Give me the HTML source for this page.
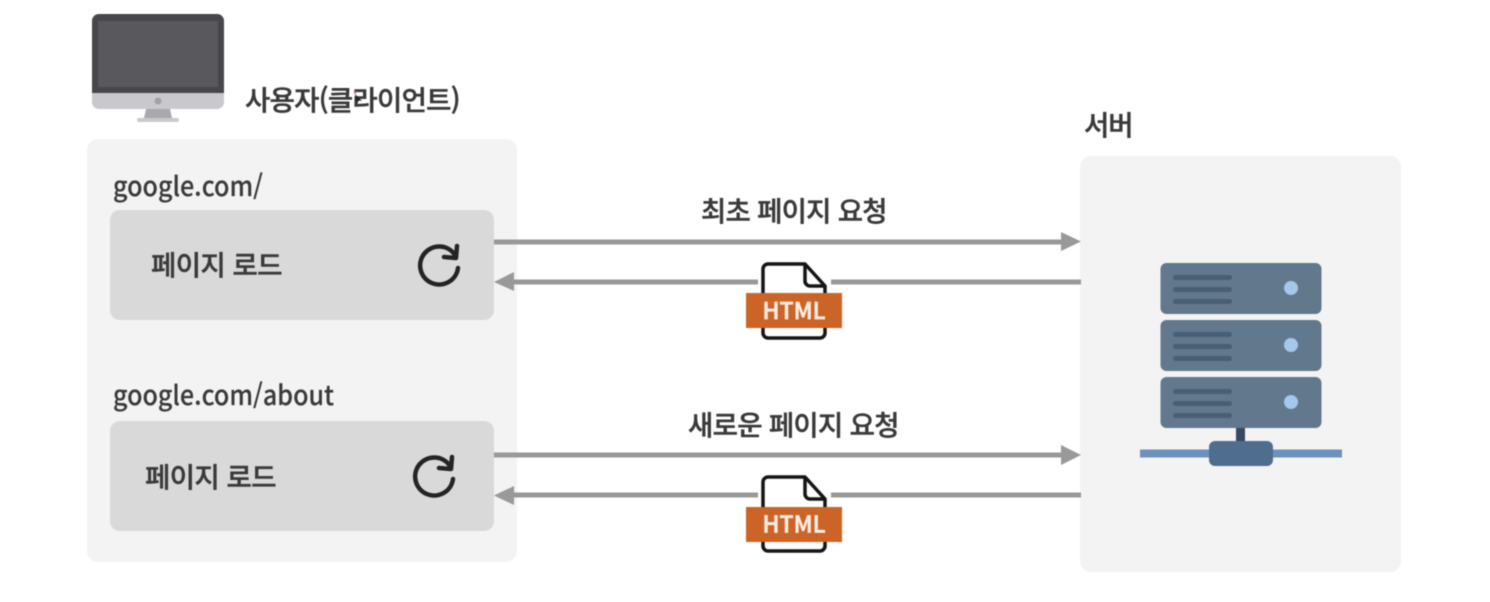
<!DOCTYPE html>
<html lang="ko">
<head>
<meta charset="utf-8">
<title>페이지 로드</title>
<style>
html,body{margin:0;padding:0;background:#fff;width:1490px;height:602px;overflow:hidden}
svg{display:block;filter:blur(.5px)}
text{font-family:"Noto Sans CJK KR","Liberation Sans",sans-serif;fill:#3a3a3a;font-weight:500;stroke:#3a3a3a;stroke-width:.45px}
.k{font-size:27.5px;letter-spacing:-.55px}
.u{font-size:27px;stroke-width:.15px}
.h{fill:#f7ebe0;stroke:#f7ebe0;stroke-width:.7px;font-size:23px;text-anchor:middle}
</style>
</head>
<body>
<svg width="1490" height="602" viewBox="0 0 1490 602" xmlns="http://www.w3.org/2000/svg">
  <!-- Panels -->
  <rect x="87" y="139" width="430" height="423" rx="11" fill="#f3f3f3"/>
  <rect x="1080" y="156" width="321" height="416" rx="11" fill="#f3f3f3"/>
  <rect x="110" y="210" width="384" height="110" rx="10" fill="#d9d9d9"/>
  <rect x="110" y="421" width="384" height="110" rx="10" fill="#d9d9d9"/>

  <!-- Monitor -->
  <rect x="92" y="14" width="132" height="95" rx="7" fill="#c9c8cc"/>
  <path d="M92 93V21a7 7 0 0 1 7-7H217a7 7 0 0 1 7 7V93Z" fill="#47474b"/>
  <rect x="98" y="21" width="120" height="66" fill="#59585d"/>
  <circle cx="158" cy="101" r="3.500" fill="#a3a2a7"/>
  <path d="M146 109H170L172 118H144Z" fill="#a9a8ad"/>
  <rect x="137" y="118" width="42" height="4" rx="2" fill="#c9c8cc"/>

  <!-- Labels -->
  <text class="k" x="245" y="110" textLength="215">사용자(클라이언트)</text>
  <path d="M355 94l2 9 2-2.500 3 .5z" fill="#222"/>
  <circle cx="355" cy="93" r="1.200" fill="#d98080"/>
  <text class="k" x="1084" y="135" textLength="49">서버</text>
  <text class="u" x="113" y="196" textLength="150" lengthAdjust="spacingAndGlyphs">google.com/</text>
  <text class="u" x="113" y="405" textLength="221" lengthAdjust="spacingAndGlyphs">google.com/about</text>
  <text class="k" x="151" y="275" textLength="131">페이지 로드</text>
  <text class="k" x="145" y="487" textLength="131">페이지 로드</text>
  <text class="k" x="701" y="221" textLength="186">최초 페이지 요청</text>
  <text class="k" x="688" y="435" textLength="211">새로운 페이지 요청</text>

  <!-- Reload icons -->
  <g fill="none" stroke="#242424" stroke-width="4.500" stroke-linecap="round" stroke-linejoin="round">
    <path d="M455 255A19 19 0 1 0 458 268"/>
    <path d="M457 246L456 258L444 257"/>
    <path d="M450 466A19 19 0 1 0 453 479"/>
    <path d="M452 457L451 469L439 468"/>
  </g>

  <!-- Arrows -->
  <g fill="#999">
    <rect x="494" y="239.500" width="570" height="5"/>
    <path d="M1061 232L1081 241.500L1061 251Z"/>
    <rect x="512" y="279.500" width="246" height="5"/>
    <rect x="831" y="279.500" width="250" height="5"/>
    <path d="M514 272L494 282L514 291Z"/>
    <rect x="494" y="452.500" width="570" height="5"/>
    <path d="M1061 445L1081 455L1061 465Z"/>
    <rect x="512" y="492.500" width="246" height="5"/>
    <rect x="831" y="492.500" width="250" height="5"/>
    <path d="M514 486L494 495.500L514 505Z"/>
  </g>

  <!-- HTML file icons -->
  <g>
    <path d="M763 293V269a5 5 0 0 1 5-5H805L825 286V293M763 328V333a5 5 0 0 0 5 5H820a5 5 0 0 0 5-5V328" fill="#fff" stroke="#151515" stroke-width="3.500" stroke-linejoin="round"/>
    <path d="M805 264V281a5 5 0 0 0 5 5H825" fill="none" stroke="#151515" stroke-width="3.500"/>
    <rect x="746" y="293" width="96" height="35" fill="#cc6428"/>
    <text class="h" x="794" y="319" textLength="63" lengthAdjust="spacingAndGlyphs">HTML</text>
  </g>
  <g>
    <path d="M763 507V482a5 5 0 0 1 5-5H805L825 499V507M763 541V546a5 5 0 0 0 5 5H820a5 5 0 0 0 5-5V541" fill="#fff" stroke="#151515" stroke-width="3.500" stroke-linejoin="round"/>
    <path d="M805 477V494a5 5 0 0 0 5 5H825" fill="none" stroke="#151515" stroke-width="3.500"/>
    <rect x="746" y="507" width="96" height="35" fill="#cc6428"/>
    <text class="h" x="794" y="532.500" textLength="63" lengthAdjust="spacingAndGlyphs">HTML</text>
  </g>

  <!-- Server -->
  <rect x="1236" y="427" width="9" height="16" fill="#36495e"/>
  <rect x="1140" y="449.500" width="202" height="8" fill="#6c92bb"/>
  <rect x="1209" y="441" width="64" height="25" rx="6" fill="#4f6d8f"/>
  <g>
    <rect x="1160.500" y="263" width="161" height="51" rx="6" fill="#62788d"/>
    <rect x="1160.500" y="320" width="161" height="51" rx="6" fill="#62788d"/>
    <rect x="1160.500" y="377" width="161" height="51" rx="6" fill="#62788d"/>
    <g fill="#4b5f74">
      <rect x="1173" y="275" width="59" height="5" rx="2.500"/>
      <rect x="1173" y="287" width="59" height="5" rx="2.500"/>
      <rect x="1173" y="299" width="59" height="5" rx="2.500"/>
      <rect x="1173" y="332" width="59" height="5" rx="2.500"/>
      <rect x="1173" y="344" width="59" height="5" rx="2.500"/>
      <rect x="1173" y="356" width="59" height="5" rx="2.500"/>
      <rect x="1173" y="389" width="59" height="5" rx="2.500"/>
      <rect x="1173" y="401" width="59" height="5" rx="2.500"/>
      <rect x="1173" y="413" width="59" height="5" rx="2.500"/>
    </g>
    <g fill="#a3c8ec">
      <circle cx="1291" cy="288" r="7"/>
      <circle cx="1291" cy="345" r="7"/>
      <circle cx="1291" cy="402" r="7"/>
    </g>
  </g>
</svg>
</body>
</html>
